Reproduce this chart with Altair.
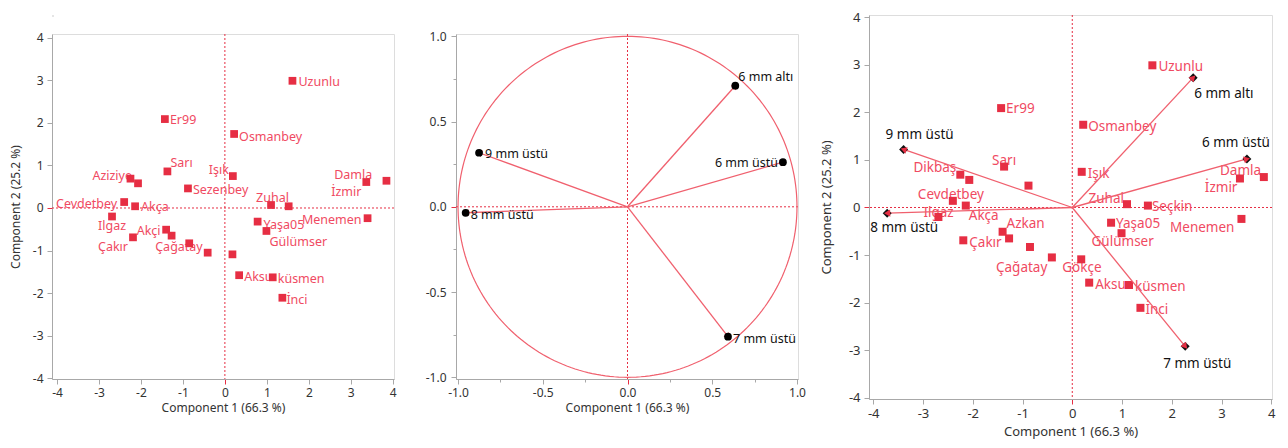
import altair as alt
import pandas as pd
import numpy as np

# ---------------- data ----------------
names = ["Uzunlu", "Er99", "Osmanbey", "Sarı", "Dikbaş", "Aziziye", "Sezenbey", "Işık",
         "Damla", "İzmir", "Cevdetbey", "Akça", "Zuhal", "Seçkin", "Menemen", "Ilgaz",
         "Yaşa05", "Gülümser", "Azkan", "Akçi", "Çakır", "Çağatay", "", "Gökçe",
         "Aksu", "küsmen", "İnci"]
pc1 = [1.61, -1.43, 0.22, -1.37, -2.25, -2.07, -0.88, 0.19,
       3.37, 3.85, -2.40, -2.14, 1.10, 1.52, 3.40, -2.69,
       0.78, 0.99, -1.40, -1.27, -2.19, -0.85, -0.41, 0.18,
       0.34, 1.14, 1.37]
pc2 = [2.99, 2.09, 1.74, 0.86, 0.69, 0.58, 0.46, 0.75,
       0.61, 0.64, 0.14, 0.04, 0.07, 0.04, -0.24, -0.20,
       -0.32, -0.54, -0.51, -0.65, -0.69, -0.83, -1.05, -1.09,
       -1.58, -1.63, -2.11]

var_names = ["6 mm altı", "6 mm üstü", "7 mm üstü", "8 mm üstü", "9 mm üstü"]
load1 = [0.636, 0.917, 0.593, -0.955, -0.876]
load2 = [0.710, 0.262, -0.762, -0.035, 0.317]
bi1 = [2.43, 3.51, 2.27, -3.72, -3.39]
bi2 = [2.73, 1.02, -2.92, -0.12, 1.22]

score_ticks = [-4, -3, -2, -1, 0, 1, 2, 3, 4]
loading_ticks = [-1.0, -0.75, -0.5, -0.25, 0.0, 0.25, 0.5, 0.75, 1.0]
x_title = "Component 1  (66.3 %)"
y_title = "Component 2  (25.2 %)"

# ---------------- styles ----------------
FONT = "Noto Sans"
RED = "#e62e43"
TXT_RED = "#f04a62"
LINE_RED = "#f0606e"
AX_GRAY = "#a8a8a8"
LBL = "#333333"

# label placement per panel: name -> (dx, dy, align)
left_labels = {
    "Uzunlu": (6, 1, "L"), "Er99": (5, 1, "L"), "Osmanbey": (5, 3, "L"), "Sarı": (3, -8, "L"),
    "Işık": (-4, -6, "R"), "Damla": (6, -7, "R"), "İzmir": (-25, 11, "R"), "Aziziye": (-6, -7, "R"),
    "Sezenbey": (5, 2, "L"), "Zuhal": (-15, -7, "L"), "Cevdetbey": (-7, 2, "R"), "Akça": (6, 1, "L"),
    "Menemen": (-6, 2, "R"), "Ilgaz": (-14, 10, "L"), "Akçi": (-11, -5, "R"), "Çakır": (-5, 10, "R"),
    "Çağatay": (-34, 4, "L"), "Yaşa05": (6, 3, "L"), "Gülümser": (3, 11, "L"), "Aksu": (5, 2, "L"),
    "küsmen": (5, 2, "L"), "İnci": (4, 2, "L"),
}
right_labels = {
    "Uzunlu": (6, 2, "L"), "Er99": (5, 1, "L"), "Osmanbey": (5, 2, "L"), "Sarı": (-12, -6, "L"),
    "Dikbaş": (-4, -7, "R"), "Işık": (6, 2, "L"), "Damla": (-20, -7, "L"), "İzmir": (-59, 11, "L"),
    "Cevdetbey": (-35, -6, "L"), "Zuhal": (-3, -5, "R"), "Seçkin": (4, 1, "L"), "Ilgaz": (-15, -4, "L"),
    "Akça": (3, 10, "L"), "Azkan": (4, -8, "L"), "Yaşa05": (5, 1, "L"), "Menemen": (-7, 9, "R"),
    "Çakır": (6, 3, "L"), "Gülümser": (-30, 9, "L"), "Çağatay": (-34, 21, "L"), "Gökçe": (-19, 9, "L"),
    "Aksu": (6, 2, "L"), "küsmen": (6, 2, "L"), "İnci": (5, 2, "L"),
}
right_var_labels = {
    "6 mm altı": (1, 16, "L"), "9 mm üstü": (-18, -14, "L"), "6 mm üstü": (-45, -16, "L"),
    "8 mm üstü": (-17, 15, "L"), "7 mm üstü": (-22, 18, "L"),
}
mid_var_labels = {
    "6 mm altı": (3, -9, "L"), "9 mm üstü": (6, 1, "L"), "6 mm üstü": (-5, 1, "R"),
    "8 mm üstü": (5, 2, "L"), "7 mm üstü": (5, 2, "L"),
}

scores = pd.DataFrame({"name": names, "x": pc1, "y": pc2})
loads = pd.DataFrame({"name": var_names, "x": load1, "y": load2, "x0": 0.0, "y0": 0.0})
bis = pd.DataFrame({"name": var_names, "x": bi1, "y": bi2, "x0": 0.0, "y0": 0.0})
origin = pd.DataFrame({"x": [0.0], "y": [0.0]})
th = np.linspace(0, 2 * np.pi, 241)
circle = pd.DataFrame({"x": np.cos(th), "y": np.sin(th), "o": np.arange(len(th))})


def neg_fmt(fmt):
    return f"datum.value < 0 ? '-' + format(-datum.value, '{fmt}') : format(datum.value, '{fmt}')"


def make_axis(title, fs, ticks, minor=False, fmt="d", extent=None, title_pad=None, label_pad=None):
    label_expr = neg_fmt(fmt)
    kw = {}
    if minor:
        label_expr = "abs(datum.value % 0.5) > 0.01 ? '' : (" + label_expr + ")"
        kw["tickSize"] = {"condition": {"test": "abs(datum.value % 0.5) > 0.01", "value": 3}, "value": 5}
    else:
        kw["tickSize"] = 5
    if extent is not None:
        kw["minExtent"] = extent
        kw["maxExtent"] = extent
    if title_pad is not None:
        kw["titlePadding"] = title_pad
    if label_pad is not None:
        kw["labelPadding"] = label_pad
    kw["title"] = title
    return alt.Axis(values=ticks, grid=False, labelExpr=label_expr, labelFont=FONT, titleFont=FONT,
                    labelFontSize=fs, titleFontSize=fs, labelColor=LBL, titleColor=LBL,
                    titleFontWeight="normal", domainColor=AX_GRAY,
                    tickColor={"condition": {"test": "datum.value == 0", "value": RED}, "value": AX_GRAY},
                    labelFlush=False, labelOverlap=False, **kw)


def text_layers(df, placements, X, Y, color, fs):
    out = []
    for nm, (dx, dy, al) in placements.items():
        out.append(
            alt.Chart(df).transform_filter(alt.datum.name == nm)
            .mark_text(dx=dx, dy=dy, align="left" if al == "L" else "right", baseline="middle",
                       color=color, font=FONT, fontSize=fs)
            .encode(x=X, y=Y, text="name:N")
        )
    return out


def ref_lines(X, Y):
    v = alt.Chart(origin).mark_rule(color=RED, strokeDash=[2, 2], strokeWidth=1).encode(x=X)
    h = alt.Chart(origin).mark_rule(color=RED, strokeDash=[2, 2], strokeWidth=1).encode(y=Y)
    return [v, h]


# ---------------- left: score plot ----------------
xs_l = alt.Scale(domain=[-4.12, 4.03], nice=False, zero=False)
ys_l = alt.Scale(domain=[-4.02, 4.09], nice=False, zero=False)
XL = alt.X("x:Q", scale=xs_l, axis=make_axis(x_title, 12, score_ticks, label_pad=3, title_pad=4))
YL = alt.Y("y:Q", scale=ys_l, axis=make_axis(y_title, 12, score_ticks, extent=22, title_pad=8,
                                             label_pad=4))
left_layers = ref_lines(XL, YL)
left_layers += text_layers(scores, left_labels, XL, YL, TXT_RED, 12.5)
left_layers.append(alt.Chart(scores).mark_square(color=RED, size=60, opacity=1).encode(x=XL, y=YL))
left = alt.layer(*left_layers).properties(width=342, height=345)

# ---------------- middle: loading plot ----------------
xs_m = alt.Scale(domain=[-1.012, 1.006], nice=False, zero=False)
ys_m = alt.Scale(domain=[-1.01, 1.0135], nice=False, zero=False)
XM = alt.X("x:Q", scale=xs_m, axis=make_axis(x_title, 12, loading_ticks, minor=True, fmt=".1f",
                                             label_pad=3, title_pad=4))
YM = alt.Y("y:Q", scale=ys_m, axis=make_axis(None, 12, loading_ticks, minor=True, fmt=".1f",
                                             label_pad=5, extent=32))
loads_m = loads.copy()
loads_m["ang"] = np.degrees(np.arctan2(loads_m["x"] * 169.5, loads_m["y"] * 170.5))
mid_layers = ref_lines(XM, YM)
mid_layers.append(alt.Chart(circle).mark_line(color=LINE_RED, strokeWidth=1.2)
                  .encode(x=XM, y=YM, order="o:Q"))
mid_layers.append(alt.Chart(loads_m).mark_rule(color=LINE_RED, strokeWidth=1.3)
                  .encode(x=XM, y=YM, x2="x0:Q", y2="y0:Q"))
mid_layers.append(alt.Chart(loads_m).mark_point(shape="triangle-up", filled=True, color=RED, size=45,
                                                opacity=1)
                  .encode(x=XM, y=YM, angle=alt.Angle("ang:Q", scale=None)))
mid_layers.append(alt.Chart(loads_m).mark_circle(color="black", size=60, opacity=1)
                  .encode(x=XM, y=YM))
mid_layers += text_layers(loads_m, mid_var_labels, XM, YM, "#111111", 12.5)
middle = alt.layer(*mid_layers).properties(width=342, height=345)

# ---------------- right: biplot ----------------
xs_r = alt.Scale(domain=[-4.085, 4.014], nice=False, zero=False)
ys_r = alt.Scale(domain=[-4.027, 4.048], nice=False, zero=False)
XR = alt.X("x:Q", scale=xs_r, axis=make_axis(x_title, 13, score_ticks, label_pad=3, title_pad=5))
YR = alt.Y("y:Q", scale=ys_r, axis=make_axis(y_title, 13, score_ticks, extent=24, title_pad=12,
                                             label_pad=4))
bis_r = bis.copy()
bis_r["ang"] = np.degrees(np.arctan2(bis_r["x"] * 49.8, bis_r["y"] * 47.6))
right_layers = ref_lines(XR, YR)
right_layers += text_layers(scores, right_labels, XR, YR, TXT_RED, 13.5)
right_layers.append(alt.Chart(scores).mark_square(color=RED, size=64, opacity=1).encode(x=XR, y=YR))
right_layers.append(alt.Chart(bis_r).mark_rule(color=LINE_RED, strokeWidth=1.3)
                    .encode(x=XR, y=YR, x2="x0:Q", y2="y0:Q"))
right_layers.append(alt.Chart(bis_r).mark_point(shape="diamond", filled=True, color="#111111", size=80,
                                                opacity=1)
                    .encode(x=XR, y=YR))
right_layers.append(alt.Chart(bis_r).mark_point(shape="triangle-up", filled=True, color=RED, size=50,
                                                opacity=1)
                    .encode(x=XR, y=YR, angle=alt.Angle("ang:Q", scale=None)))
right_layers += text_layers(bis_r, right_var_labels, XR, YR, "#111111", 13.5)
right = alt.layer(*right_layers).properties(width=403, height=384)

# ---------------- layout ----------------
spacer = alt.Chart(origin).mark_point(opacity=0).encode(
    x=alt.X("x:Q", axis=None), y=alt.Y("y:Q", axis=None)).properties(width=1, height=1)

left_block = alt.vconcat(spacer, alt.hconcat(left, middle, spacing=26), spacing=10)
chart = alt.hconcat(left_block, right, spacing=13).properties(
    padding={"left": 0, "top": 2, "right": 0, "bottom": 0}
).configure_view(stroke="#cfcfcf", strokeWidth=1).configure(background="white")

chart.save("out.html", embed_options={"renderer": "svg", "actions": False})
